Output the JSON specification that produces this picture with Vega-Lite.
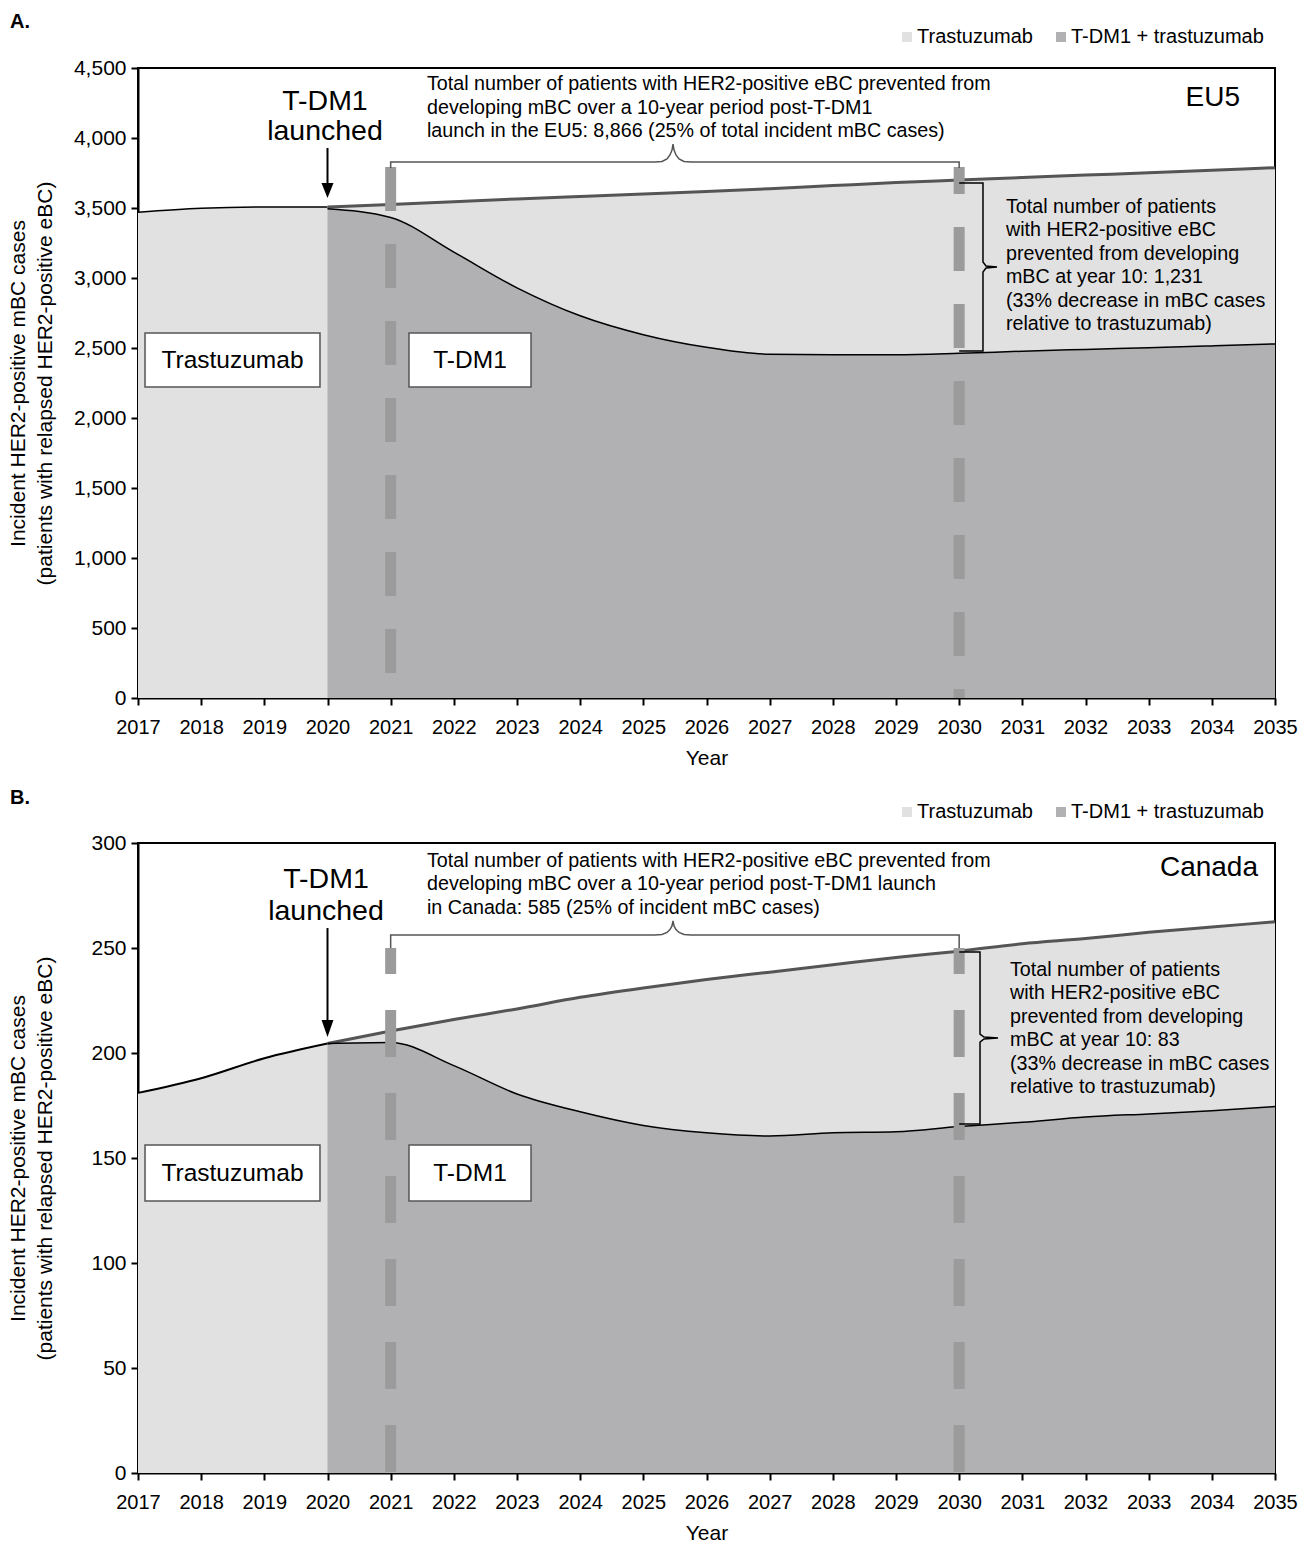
{
  "$schema": "https://vega.github.io/schema/vega-lite/v6.json",
  "background": "white",
  "padding": {"left": 6, "top": 10, "right": 0, "bottom": 0},
  "spacing": 145,
  "bounds": "flush",
  "resolve": {"scale": {"color": "independent", "x": "independent", "y": "independent"}, "legend": {"color": "independent"}},
  "config": {
    "font": "Liberation Sans",
    "view": {"stroke": "#000", "strokeWidth": 2},
    "axis": {"domainColor": "#000", "domainWidth": 2, "tickColor": "#000", "tickWidth": 2, "tickSize": 7, "labelColor": "#000", "titleColor": "#000", "titleFontWeight": "normal", "grid": false, "labelFlush": false, "labelOverlap": false, "labelBound": false},
    "axisX": {"labelFontSize": 20, "labelPadding": 12, "titleFontSize": 21, "titlePadding": 10},
    "axisY": {"labelFontSize": 21, "labelPadding": 5, "titleFontSize": 21, "titleX": -110, "titleLineHeight": 27},
    "text": {"color": "#000"}
  },
  "datasets": {
    "eu": [
      {"year": 2017, "series": "Trastuzumab", "v": 3470},
      {"year": 2018, "series": "Trastuzumab", "v": 3498},
      {"year": 2019, "series": "Trastuzumab", "v": 3507},
      {"year": 2020, "series": "Trastuzumab", "v": 3507},
      {"year": 2021, "series": "Trastuzumab", "v": 3525},
      {"year": 2022, "series": "Trastuzumab", "v": 3545},
      {"year": 2023, "series": "Trastuzumab", "v": 3565},
      {"year": 2024, "series": "Trastuzumab", "v": 3583},
      {"year": 2025, "series": "Trastuzumab", "v": 3600},
      {"year": 2026, "series": "Trastuzumab", "v": 3618},
      {"year": 2027, "series": "Trastuzumab", "v": 3638},
      {"year": 2028, "series": "Trastuzumab", "v": 3660},
      {"year": 2029, "series": "Trastuzumab", "v": 3682},
      {"year": 2030, "series": "Trastuzumab", "v": 3700},
      {"year": 2031, "series": "Trastuzumab", "v": 3718},
      {"year": 2032, "series": "Trastuzumab", "v": 3735},
      {"year": 2033, "series": "Trastuzumab", "v": 3752},
      {"year": 2034, "series": "Trastuzumab", "v": 3770},
      {"year": 2035, "series": "Trastuzumab", "v": 3788},
      {"year": 2020, "series": "T-DM1 + trastuzumab", "v": 3495},
      {"year": 2021, "series": "T-DM1 + trastuzumab", "v": 3432},
      {"year": 2022, "series": "T-DM1 + trastuzumab", "v": 3185},
      {"year": 2023, "series": "T-DM1 + trastuzumab", "v": 2930},
      {"year": 2024, "series": "T-DM1 + trastuzumab", "v": 2730},
      {"year": 2025, "series": "T-DM1 + trastuzumab", "v": 2595},
      {"year": 2026, "series": "T-DM1 + trastuzumab", "v": 2505},
      {"year": 2027, "series": "T-DM1 + trastuzumab", "v": 2455},
      {"year": 2028, "series": "T-DM1 + trastuzumab", "v": 2452},
      {"year": 2029, "series": "T-DM1 + trastuzumab", "v": 2452},
      {"year": 2030, "series": "T-DM1 + trastuzumab", "v": 2462},
      {"year": 2031, "series": "T-DM1 + trastuzumab", "v": 2477},
      {"year": 2032, "series": "T-DM1 + trastuzumab", "v": 2490},
      {"year": 2033, "series": "T-DM1 + trastuzumab", "v": 2502},
      {"year": 2034, "series": "T-DM1 + trastuzumab", "v": 2515},
      {"year": 2035, "series": "T-DM1 + trastuzumab", "v": 2529}
    ],
    "ca": [
      {"year": 2017, "series": "Trastuzumab", "v": 181},
      {"year": 2018, "series": "Trastuzumab", "v": 188},
      {"year": 2019, "series": "Trastuzumab", "v": 197.5},
      {"year": 2020, "series": "Trastuzumab", "v": 204.5},
      {"year": 2021, "series": "Trastuzumab", "v": 210.5},
      {"year": 2022, "series": "Trastuzumab", "v": 216},
      {"year": 2023, "series": "Trastuzumab", "v": 221},
      {"year": 2024, "series": "Trastuzumab", "v": 226.5},
      {"year": 2025, "series": "Trastuzumab", "v": 231},
      {"year": 2026, "series": "Trastuzumab", "v": 235},
      {"year": 2027, "series": "Trastuzumab", "v": 238.5},
      {"year": 2028, "series": "Trastuzumab", "v": 242},
      {"year": 2029, "series": "Trastuzumab", "v": 245.5},
      {"year": 2030, "series": "Trastuzumab", "v": 248.5},
      {"year": 2031, "series": "Trastuzumab", "v": 252},
      {"year": 2032, "series": "Trastuzumab", "v": 254.5},
      {"year": 2033, "series": "Trastuzumab", "v": 257.5},
      {"year": 2034, "series": "Trastuzumab", "v": 260},
      {"year": 2035, "series": "Trastuzumab", "v": 262.5},
      {"year": 2020, "series": "T-DM1 + trastuzumab", "v": 204.5},
      {"year": 2021, "series": "T-DM1 + trastuzumab", "v": 205},
      {"year": 2022, "series": "T-DM1 + trastuzumab", "v": 194},
      {"year": 2023, "series": "T-DM1 + trastuzumab", "v": 180.5},
      {"year": 2024, "series": "T-DM1 + trastuzumab", "v": 172},
      {"year": 2025, "series": "T-DM1 + trastuzumab", "v": 165.5},
      {"year": 2026, "series": "T-DM1 + trastuzumab", "v": 162},
      {"year": 2027, "series": "T-DM1 + trastuzumab", "v": 160.5},
      {"year": 2028, "series": "T-DM1 + trastuzumab", "v": 162},
      {"year": 2029, "series": "T-DM1 + trastuzumab", "v": 162.5},
      {"year": 2030, "series": "T-DM1 + trastuzumab", "v": 165},
      {"year": 2031, "series": "T-DM1 + trastuzumab", "v": 167},
      {"year": 2032, "series": "T-DM1 + trastuzumab", "v": 169.5},
      {"year": 2033, "series": "T-DM1 + trastuzumab", "v": 171},
      {"year": 2034, "series": "T-DM1 + trastuzumab", "v": 172.5},
      {"year": 2035, "series": "T-DM1 + trastuzumab", "v": 174.5}
    ],
    "eu_dash21": [{"year": 2021, "v": 3793, "v2": 0}],
    "eu_dash30": [{"year": 2030, "v": 3793, "v2": 0}],
    "eu_brace": [
      {"i": 0, "year": 2021, "v": 3786}, {"i": 1, "year": 2021, "v": 3829},
      {"i": 2, "year": 2025.185, "v": 3829}, {"i": 3, "year": 2025.295, "v": 3832},
      {"i": 4, "year": 2025.375, "v": 3850}, {"i": 5, "year": 2025.422, "v": 3879},
      {"i": 6, "year": 2025.454, "v": 3914}, {"i": 7, "year": 2025.47, "v": 3957},
      {"i": 8, "year": 2025.486, "v": 3914}, {"i": 9, "year": 2025.517, "v": 3879},
      {"i": 10, "year": 2025.565, "v": 3850}, {"i": 11, "year": 2025.644, "v": 3832},
      {"i": 12, "year": 2025.755, "v": 3829}, {"i": 13, "year": 2030, "v": 3829},
      {"i": 14, "year": 2030, "v": 3786}
    ],
    "eu_bracket": [
      {"i": 0, "year": 2030, "v": 3679}, {"i": 1, "year": 2030.377, "v": 3679},
      {"i": 2, "year": 2030.377, "v": 3114}, {"i": 3, "year": 2030.425, "v": 3086},
      {"i": 4, "year": 2030.599, "v": 3079}, {"i": 5, "year": 2030.425, "v": 3071},
      {"i": 6, "year": 2030.377, "v": 3043}, {"i": 7, "year": 2030.377, "v": 2479},
      {"i": 8, "year": 2030, "v": 2479}
    ],
    "eu_arrow": [{"year": 2020, "v": 3929, "v2": 3650}],
    "eu_head": [{"year": 2020, "v": 3625}],
    "eu_box": [
      {"year": 2017.111, "year2": 2019.881, "v": 2607, "v2": 2221},
      {"year": 2021.29, "year2": 2023.222, "v": 2607, "v2": 2221}
    ],
    "eu_boxlab": [
      {"year": 2018.496, "v": 2407, "label": "Trastuzumab"},
      {"year": 2022.256, "v": 2407, "label": "T-DM1"}
    ],
    "eu_big": [{"year": 2019.96, "v": 4364, "label": "T-DM1\nlaunched"}],
    "eu_top": [{"year": 2021.575, "v": 4457, "label": "Total number of patients with HER2-positive eBC prevented from\ndeveloping mBC over a 10-year period post-T-DM1\nlaunch in the EU5: 8,866 (25% of total incident mBC cases)"}],
    "eu_right": [{"year": 2030.741, "v": 3579, "label": "Total number of patients\nwith HER2-positive eBC\nprevented from developing\nmBC at year 10: 1,231\n(33% decrease in mBC cases\nrelative to trastuzumab)"}],
    "eu_region": [{"year": 2034.446, "v": 4286, "label": "EU5"}],
    "eu_letter": [{"year": 2014.974, "v": 4786, "label": "A."}],
    "ca_dash21": [{"year": 2021, "v": 250, "v2": 0}],
    "ca_dash30": [{"year": 2030, "v": 250, "v2": 0}],
    "ca_brace": [
      {"i": 0, "year": 2021, "v": 250}, {"i": 1, "year": 2021, "v": 256.2},
      {"i": 2, "year": 2025.185, "v": 256.2}, {"i": 3, "year": 2025.295, "v": 256.4},
      {"i": 4, "year": 2025.375, "v": 257.4}, {"i": 5, "year": 2025.422, "v": 258.8},
      {"i": 6, "year": 2025.454, "v": 260.5}, {"i": 7, "year": 2025.47, "v": 262.9},
      {"i": 8, "year": 2025.486, "v": 260.5}, {"i": 9, "year": 2025.517, "v": 258.8},
      {"i": 10, "year": 2025.565, "v": 257.4}, {"i": 11, "year": 2025.644, "v": 256.4},
      {"i": 12, "year": 2025.755, "v": 256.2}, {"i": 13, "year": 2030, "v": 256.2},
      {"i": 14, "year": 2030, "v": 250}
    ],
    "ca_bracket": [
      {"i": 0, "year": 2030, "v": 248.1}, {"i": 1, "year": 2030.33, "v": 248.1},
      {"i": 2, "year": 2030.33, "v": 209.0}, {"i": 3, "year": 2030.393, "v": 207.6},
      {"i": 4, "year": 2030.615, "v": 207.1}, {"i": 5, "year": 2030.393, "v": 206.7},
      {"i": 6, "year": 2030.33, "v": 205.2}, {"i": 7, "year": 2030.33, "v": 166.2},
      {"i": 8, "year": 2030, "v": 166.2}
    ],
    "ca_arrow": [{"year": 2020, "v": 259.5, "v2": 213}],
    "ca_head": [{"year": 2020, "v": 211.7}],
    "ca_box": [
      {"year": 2017.111, "year2": 2019.881, "v": 156.2, "v2": 129.5},
      {"year": 2021.29, "year2": 2023.222, "v": 156.2, "v2": 129.5}
    ],
    "ca_boxlab": [
      {"year": 2018.496, "v": 142.2, "label": "Trastuzumab"},
      {"year": 2022.256, "v": 142.2, "label": "T-DM1"}
    ],
    "ca_big": [{"year": 2019.976, "v": 289.5, "label": "T-DM1\nlaunched"}],
    "ca_top": [{"year": 2021.575, "v": 296.2, "label": "Total number of patients with HER2-positive eBC prevented from\ndeveloping mBC over a 10-year period post-T-DM1 launch\nin Canada: 585 (25% of incident mBC cases)"}],
    "ca_right": [{"year": 2030.805, "v": 244.3, "label": "Total number of patients\nwith HER2-positive eBC\nprevented from developing\nmBC at year 10: 83\n(33% decrease in mBC cases\nrelative to trastuzumab)"}],
    "ca_region": [{"year": 2034.731, "v": 288.1, "label": "Canada"}],
    "ca_letter": [{"year": 2014.974, "v": 318.6, "label": "B."}]
  },
  "vconcat": [
    {
      "width": 1137,
      "height": 630,
      "encoding": {
        "x": {"field": "year", "type": "quantitative", "scale": {"domain": [2017, 2035], "nice": false, "zero": false},
              "axis": {"title": "Year", "format": "d", "values": [2017,2018,2019,2020,2021,2022,2023,2024,2025,2026,2027,2028,2029,2030,2031,2032,2033,2034,2035]}},
        "y": {"field": "v", "type": "quantitative", "scale": {"domain": [0, 4500], "nice": false},
              "axis": {"title": ["Incident HER2-positive mBC cases", "(patients with relapsed HER2-positive eBC)"], "format": ",d", "values": [0,500,1000,1500,2000,2500,3000,3500,4000,4500]}}
      },
      "layer": [
        {"data": {"name": "eu"}, "transform": [{"filter": "datum.series === 'Trastuzumab'"}],
         "mark": {"type": "area", "interpolate": "monotone"},
         "encoding": {"color": {"field": "series", "type": "nominal",
            "scale": {"domain": ["Trastuzumab", "T-DM1 + trastuzumab"], "range": ["#e1e1e1", "#b1b1b3"]},
            "legend": {"title": null, "orient": "none", "legendX": 759, "legendY": -41, "direction": "horizontal", "symbolType": "square", "symbolSize": 100, "symbolStrokeWidth": 0, "labelFontSize": 20, "labelColor": "#000", "labelOffset": 0, "labelLimit": 400, "columnPadding": 18, "padding": 0}}}},
        {"data": {"name": "eu"}, "transform": [{"filter": "datum.series === 'T-DM1 + trastuzumab'"}],
         "mark": {"type": "area", "interpolate": "monotone"},
         "encoding": {"color": {"field": "series", "type": "nominal"}}},
        {"data": {"name": "eu"}, "transform": [{"filter": "datum.series === 'Trastuzumab' && datum.year <= 2020"}],
         "mark": {"type": "line", "interpolate": "monotone", "color": "#000", "strokeWidth": 1.5}, "encoding": {}},
        {"data": {"name": "eu"}, "transform": [{"filter": "datum.series === 'Trastuzumab' && datum.year >= 2020"}],
         "mark": {"type": "line", "interpolate": "monotone", "color": "#555555", "strokeWidth": 3}, "encoding": {}},
        {"data": {"name": "eu"}, "transform": [{"filter": "datum.series === 'T-DM1 + trastuzumab'"}],
         "mark": {"type": "line", "interpolate": "monotone", "color": "#000", "strokeWidth": 1.5}, "encoding": {}},
        {"data": {"name": "eu_dash21"}, "mark": {"type": "rule", "color": "#9b9b9b", "strokeWidth": 11, "strokeDash": [44, 33], "strokeDashOffset": 0},
         "encoding": {"y2": {"field": "v2"}}},
        {"data": {"name": "eu_dash30"}, "mark": {"type": "rule", "color": "#9b9b9b", "strokeWidth": 11, "strokeDash": [44, 33], "strokeDashOffset": 17},
         "encoding": {"y2": {"field": "v2"}}},
        {"data": {"name": "eu_brace"}, "mark": {"type": "line", "color": "#555555", "strokeWidth": 1.5},
         "encoding": {"order": {"field": "i", "type": "quantitative"}}},
        {"data": {"name": "eu_bracket"}, "mark": {"type": "line", "color": "#000", "strokeWidth": 1.5},
         "encoding": {"order": {"field": "i", "type": "quantitative"}}},
        {"data": {"name": "eu_arrow"}, "mark": {"type": "rule", "color": "#000", "strokeWidth": 2},
         "encoding": {"y2": {"field": "v2"}}},
        {"data": {"name": "eu_head"}, "mark": {"type": "point", "shape": "M-0.8,-1L0.8,-1L0,1Z", "filled": true, "color": "#000", "opacity": 1, "size": 225}, "encoding": {}},
        {"data": {"name": "eu_box"}, "mark": {"type": "rect", "fill": "#ffffff", "stroke": "#555555", "strokeWidth": 1.5},
         "encoding": {"x2": {"field": "year2"}, "y2": {"field": "v2"}}},
        {"data": {"name": "eu_boxlab"}, "mark": {"type": "text", "fontSize": 24.5, "align": "center", "baseline": "middle"},
         "encoding": {"text": {"field": "label"}}},
        {"data": {"name": "eu_big"}, "mark": {"type": "text", "fontSize": 28.5, "align": "center", "baseline": "top", "lineBreak": "\n", "lineHeight": 30},
         "encoding": {"text": {"field": "label"}}},
        {"data": {"name": "eu_top"}, "mark": {"type": "text", "fontSize": 19.7, "align": "left", "baseline": "top", "lineBreak": "\n", "lineHeight": 23.5},
         "encoding": {"text": {"field": "label"}}},
        {"data": {"name": "eu_right"}, "mark": {"type": "text", "fontSize": 19.7, "align": "left", "baseline": "top", "lineBreak": "\n", "lineHeight": 23.5},
         "encoding": {"text": {"field": "label"}}},
        {"data": {"name": "eu_region"}, "mark": {"type": "text", "fontSize": 28, "align": "right", "baseline": "middle"},
         "encoding": {"text": {"field": "label"}}},
        {"data": {"name": "eu_letter"}, "mark": {"type": "text", "fontSize": 20, "fontWeight": "bold", "align": "left", "baseline": "alphabetic"},
         "encoding": {"text": {"field": "label"}}}
      ]
    },
    {
      "width": 1137,
      "height": 630,
      "encoding": {
        "x": {"field": "year", "type": "quantitative", "scale": {"domain": [2017, 2035], "nice": false, "zero": false},
              "axis": {"title": "Year", "format": "d", "values": [2017,2018,2019,2020,2021,2022,2023,2024,2025,2026,2027,2028,2029,2030,2031,2032,2033,2034,2035]}},
        "y": {"field": "v", "type": "quantitative", "scale": {"domain": [0, 300], "nice": false},
              "axis": {"title": ["Incident HER2-positive mBC cases", "(patients with relapsed HER2-positive eBC)"], "format": "d", "values": [0,50,100,150,200,250,300]}}
      },
      "layer": [
        {"data": {"name": "ca"}, "transform": [{"filter": "datum.series === 'Trastuzumab'"}],
         "mark": {"type": "area", "interpolate": "monotone"},
         "encoding": {"color": {"field": "series", "type": "nominal",
            "scale": {"domain": ["Trastuzumab", "T-DM1 + trastuzumab"], "range": ["#e1e1e1", "#b1b1b3"]},
            "legend": {"title": null, "orient": "none", "legendX": 759, "legendY": -41, "direction": "horizontal", "symbolType": "square", "symbolSize": 100, "symbolStrokeWidth": 0, "labelFontSize": 20, "labelColor": "#000", "labelOffset": 0, "labelLimit": 400, "columnPadding": 18, "padding": 0}}}},
        {"data": {"name": "ca"}, "transform": [{"filter": "datum.series === 'T-DM1 + trastuzumab'"}],
         "mark": {"type": "area", "interpolate": "monotone"},
         "encoding": {"color": {"field": "series", "type": "nominal"}}},
        {"data": {"name": "ca"}, "transform": [{"filter": "datum.series === 'Trastuzumab' && datum.year <= 2020"}],
         "mark": {"type": "line", "interpolate": "monotone", "color": "#000", "strokeWidth": 2}, "encoding": {}},
        {"data": {"name": "ca"}, "transform": [{"filter": "datum.series === 'Trastuzumab' && datum.year >= 2020"}],
         "mark": {"type": "line", "interpolate": "monotone", "color": "#555555", "strokeWidth": 3}, "encoding": {}},
        {"data": {"name": "ca"}, "transform": [{"filter": "datum.series === 'T-DM1 + trastuzumab'"}],
         "mark": {"type": "line", "interpolate": "monotone", "color": "#000", "strokeWidth": 1.5}, "encoding": {}},
        {"data": {"name": "ca_dash21"}, "mark": {"type": "rule", "color": "#9b9b9b", "strokeWidth": 11, "strokeDash": [47, 36], "strokeDashOffset": 21},
         "encoding": {"y2": {"field": "v2"}}},
        {"data": {"name": "ca_dash30"}, "mark": {"type": "rule", "color": "#9b9b9b", "strokeWidth": 11, "strokeDash": [47, 36], "strokeDashOffset": 21},
         "encoding": {"y2": {"field": "v2"}}},
        {"data": {"name": "ca_brace"}, "mark": {"type": "line", "color": "#555555", "strokeWidth": 1.5},
         "encoding": {"order": {"field": "i", "type": "quantitative"}}},
        {"data": {"name": "ca_bracket"}, "mark": {"type": "line", "color": "#000", "strokeWidth": 1.5},
         "encoding": {"order": {"field": "i", "type": "quantitative"}}},
        {"data": {"name": "ca_arrow"}, "mark": {"type": "rule", "color": "#000", "strokeWidth": 2},
         "encoding": {"y2": {"field": "v2"}}},
        {"data": {"name": "ca_head"}, "mark": {"type": "point", "shape": "M-0.7,-1L0.7,-1L0,1Z", "filled": true, "color": "#000", "opacity": 1, "size": 289}, "encoding": {}},
        {"data": {"name": "ca_box"}, "mark": {"type": "rect", "fill": "#ffffff", "stroke": "#555555", "strokeWidth": 1.5},
         "encoding": {"x2": {"field": "year2"}, "y2": {"field": "v2"}}},
        {"data": {"name": "ca_boxlab"}, "mark": {"type": "text", "fontSize": 24.5, "align": "center", "baseline": "middle"},
         "encoding": {"text": {"field": "label"}}},
        {"data": {"name": "ca_big"}, "mark": {"type": "text", "fontSize": 28.5, "align": "center", "baseline": "top", "lineBreak": "\n", "lineHeight": 32},
         "encoding": {"text": {"field": "label"}}},
        {"data": {"name": "ca_top"}, "mark": {"type": "text", "fontSize": 19.7, "align": "left", "baseline": "top", "lineBreak": "\n", "lineHeight": 23.5},
         "encoding": {"text": {"field": "label"}}},
        {"data": {"name": "ca_right"}, "mark": {"type": "text", "fontSize": 19.7, "align": "left", "baseline": "top", "lineBreak": "\n", "lineHeight": 23.5},
         "encoding": {"text": {"field": "label"}}},
        {"data": {"name": "ca_region"}, "mark": {"type": "text", "fontSize": 28, "align": "right", "baseline": "middle"},
         "encoding": {"text": {"field": "label"}}},
        {"data": {"name": "ca_letter"}, "mark": {"type": "text", "fontSize": 20, "fontWeight": "bold", "align": "left", "baseline": "alphabetic"},
         "encoding": {"text": {"field": "label"}}}
      ]
    }
  ]
}
